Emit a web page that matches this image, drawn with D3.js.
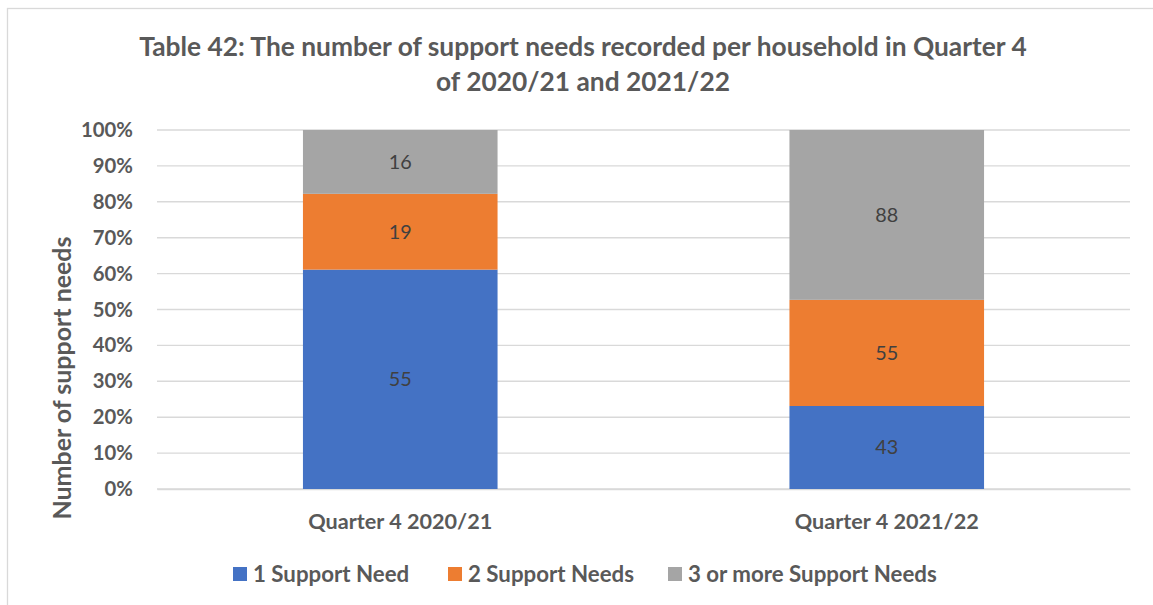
<!DOCTYPE html>
<html>
<head>
<meta charset="utf-8">
<script src="https://cdn.jsdelivr.net/npm/d3@7"></script>
<style>
  html, body { margin: 0; padding: 0; background: #fff; }
  svg { display: block; }
  text { font-family: Lato, "Open Sans", "Liberation Sans", sans-serif; }
</style>
</head>
<body>
<svg id="chart" width="1153" height="605"></svg>
<script>
// Quarter labels along the x axis
const categories = ["Quarter 4 2020/21", "Quarter 4 2021/22"];
// Series names, in stacking order (bottom to top)
const seriesNames = ["1 Support Need", "2 Support Needs", "3 or more Support Needs"];
// Household counts per series, one value per quarter
const oneNeed = [55, 43];
const twoNeeds = [19, 55];
const threePlusNeeds = [16, 88];
// Percentage tick values for the y axis
const yTicks = [0, 0.1, 0.2, 0.3, 0.4, 0.5, 0.6, 0.7, 0.8, 0.9, 1.0];
const colors = ["#4472C4", "#ED7D31", "#A5A5A5"];

const titleLines = [
  "Table 42: The number of support needs recorded per household in Quarter 4",
  "of 2020/21 and 2021/22"
];
const yTitle = "Number of support needs";

const rows = categories.map((c, i) => ({
  category: c,
  [seriesNames[0]]: oneNeed[i],
  [seriesNames[1]]: twoNeeds[i],
  [seriesNames[2]]: threePlusNeeds[i]
}));

const svg = d3.select("#chart");
const textColor = "#595959";

// font size that makes a text element span the given width
function fitWidth(sel, target) {
  const node = sel.node();
  const fs = parseFloat(sel.attr("font-size"));
  const w = node.getComputedTextLength();
  return fs * target / w;
}

// outer chart frame
svg.append("rect")
  .attr("x", 7.5).attr("y", 8.5)
  .attr("width", 1200).attr("height", 700)
  .attr("fill", "#fff")
  .attr("stroke", "#d9d9d9").attr("stroke-width", 1.3);

const plot = { left: 157, right: 1130, top: 130, bottom: 489 };

const x = d3.scaleBand()
  .domain(categories)
  .range([plot.left, plot.right])
  .paddingInner(0.6)
  .paddingOuter(0.3);

const y = d3.scaleLinear().domain([0, 1]).range([plot.bottom, plot.top]);

// gridlines
svg.append("g")
  .selectAll("line")
  .data(yTicks)
  .join("line")
  .attr("x1", plot.left).attr("x2", plot.right)
  .attr("y1", d => y(d)).attr("y2", d => y(d))
  .attr("stroke", "#d9d9d9").attr("stroke-width", 1.4);

// y axis tick labels
const yAxis = d3.axisLeft(y)
  .tickValues(yTicks)
  .tickFormat(d3.format(".0%"))
  .tickSize(0)
  .tickPadding(24);
const yG = svg.append("g")
  .attr("transform", `translate(${plot.left},0)`)
  .call(yAxis);
yG.select(".domain").remove();
yG.selectAll("text")
  .attr("font-size", 17)
  .attr("font-weight", "bold")
  .attr("fill", textColor)
  .attr("font-family", "Lato, 'Open Sans', sans-serif");
{
  const t = yG.selectAll("text").filter(d => d === 1);
  yG.selectAll("text").attr("font-size", fitWidth(t, 52));
}

// x axis category labels
const xAxis = d3.axisBottom(x).tickSize(0).tickPadding(25);
const xG = svg.append("g")
  .attr("transform", `translate(0,${plot.bottom})`)
  .call(xAxis);
xG.select(".domain").attr("stroke", "#d9d9d9").attr("stroke-width", 1.4);
xG.selectAll("text")
  .attr("font-size", 18)
  .attr("font-weight", "bold")
  .attr("fill", textColor)
  .attr("font-family", "Lato, 'Open Sans', sans-serif");
{
  const t = xG.selectAll("text").filter(d => d === categories[0]);
  xG.selectAll("text").attr("font-size", fitWidth(t, 184));
}

// stacked 100% columns
const stack = d3.stack().keys(seriesNames).offset(d3.stackOffsetExpand);
const layers = stack(rows);

const layerG = svg.append("g")
  .selectAll("g")
  .data(layers)
  .join("g")
  .attr("fill", (d, i) => colors[i]);

layerG.selectAll("rect")
  .data(d => d.map(p => ({ p, key: d.key })))
  .join("rect")
  .attr("x", d => x(d.p.data.category))
  .attr("width", x.bandwidth())
  .attr("y", d => y(d.p[1]))
  .attr("height", d => y(d.p[0]) - y(d.p[1]));

// value labels in the middle of each segment
const labels = svg.append("g").selectAll("text")
  .data(layers.flatMap(l => l.map(p => ({ p, key: l.key }))))
  .join("text")
  .attr("x", d => x(d.p.data.category) + x.bandwidth() / 2)
  .attr("y", d => y((d.p[0] + d.p[1]) / 2))
  .attr("dy", "0.35em")
  .attr("text-anchor", "middle")
  .attr("font-size", 19)
  .attr("fill", "#404040")
  .text(d => d.p.data[d.key]);
{
  const t = labels.filter(d => d.p.data[d.key] === 88);
  labels.attr("font-size", fitWidth(t, 23));
}

// chart title
const tl = svg.append("g").selectAll("text")
  .data(titleLines)
  .join("text")
  .attr("x", 583)
  .attr("y", (d, i) => 47 + i * 35)
  .attr("dy", "0.35em")
  .attr("text-anchor", "middle")
  .attr("font-size", 21)
  .attr("font-weight", "bold")
  .attr("fill", textColor)
  .text(d => d);
tl.attr("font-size", fitWidth(tl.filter((d, i) => i === 0), 888));

// y axis title
const yt = svg.append("text")
  .attr("transform", "translate(62,378) rotate(-90)")
  .attr("text-anchor", "middle")
  .attr("dy", "0.35em")
  .attr("font-size", 20)
  .attr("font-weight", "bold")
  .attr("fill", textColor)
  .text(yTitle);
yt.attr("font-size", fitWidth(yt, 283));

// legend
const legendItems = [
  { name: seriesNames[0], color: colors[0], x: 233, w: 154 },
  { name: seriesNames[1], color: colors[1], x: 448, w: 165 },
  { name: seriesNames[2], color: colors[2], x: 668, w: 254 }
];
const li = svg.append("g").selectAll("g")
  .data(legendItems)
  .join("g")
  .attr("transform", d => `translate(${d.x},574)`);
li.append("rect")
  .attr("x", 0).attr("y", -7)
  .attr("width", 14).attr("height", 14)
  .attr("fill", d => d.color);
const lt = li.append("text")
  .attr("x", 20)
  .attr("dy", "0.35em")
  .attr("font-size", 18)
  .attr("font-weight", "bold")
  .attr("fill", textColor)
  .text(d => d.name);
{
  const sizes = legendItems.map((d, i) => fitWidth(lt.filter((e, j) => j === i), d.w));
  const fs = d3.mean(sizes);
  lt.attr("font-size", fs);
}
</script>
</body>
</html>
